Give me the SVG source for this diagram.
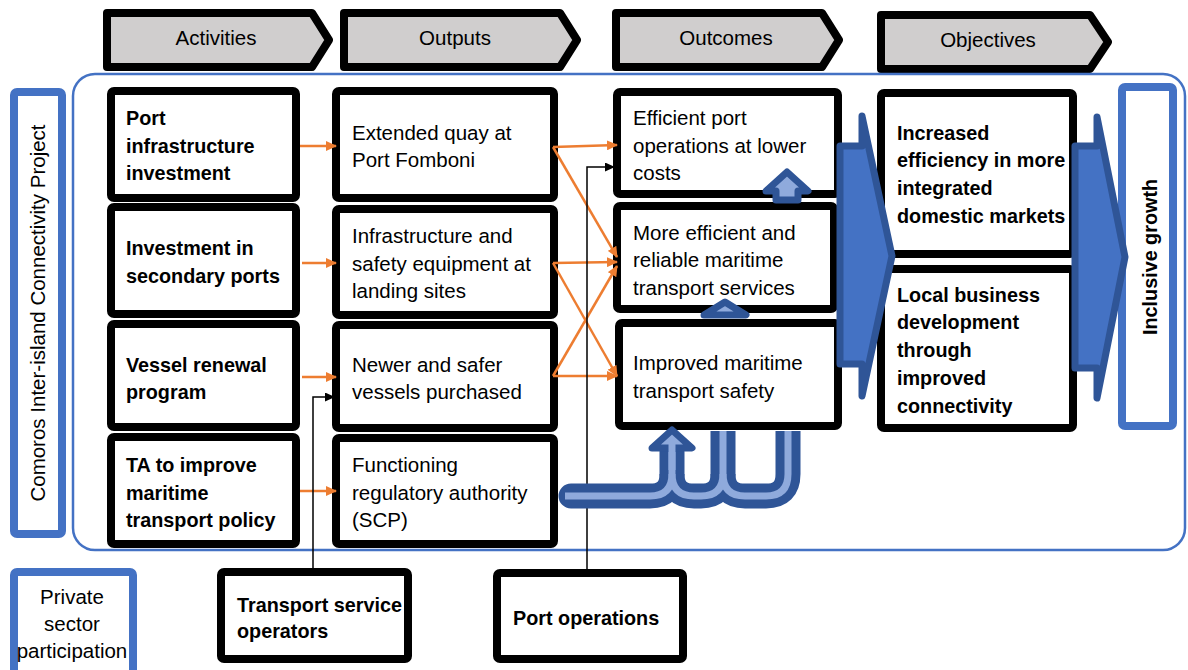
<svg xmlns="http://www.w3.org/2000/svg" width="1188" height="670" viewBox="0 0 1188 670">
  <style>
    .t { font-family: "Liberation Sans", Arial, sans-serif; font-size: 20.5px; fill: #000; }
    .b { font-weight: bold; font-size: 19.8px; }
    .c { text-anchor: middle; }
    .box { fill: #fff; stroke: #000; stroke-width: 8; }
    .hdr { fill: #d0cece; stroke: #000; stroke-width: 8; stroke-linejoin: round; }
    .frame { fill: #fff; stroke: #4472c4; stroke-width: 8; }
    .scope { fill: none; stroke: #4472c4; stroke-width: 2.5; }
    .or { fill: none; stroke: #ed7d31; stroke-width: 2.5; marker-end: url(#ao); }
    .bk { fill: none; stroke: #000; stroke-width: 1.5; marker-end: url(#ab); }
    .big { fill: #4472c4; stroke: #2f5597; stroke-width: 7; stroke-linejoin: round; }
    .sm { fill: #8faadc; stroke: #2f5597; stroke-width: 7; stroke-linejoin: round; }
    .band { fill: none; stroke: #2f5597; stroke-width: 25; }
    .core { fill: none; stroke: #8faadc; stroke-width: 7; }
  </style>
  <defs>
    <marker id="ao" markerUnits="userSpaceOnUse" markerWidth="11" markerHeight="10" refX="10" refY="5" orient="auto">
      <path d="M0,0 L11,5 L0,10 z" fill="#ed7d31"/>
    </marker>
    <marker id="ab" markerUnits="userSpaceOnUse" markerWidth="10" markerHeight="9" refX="9" refY="4.5" orient="auto">
      <path d="M0,0 L10,4.5 L0,9 z" fill="#000"/>
    </marker>
  </defs>

  <!-- stage headers -->
  <g id="hdr-activities">
    <path class="hdr" d="M107,13 H312 L329,40 L312,67 H107 Z"/>
    <text class="t c" x="216" y="45">Activities</text>
  </g>
  <g id="hdr-outputs">
    <path class="hdr" d="M344,13 H560 L577,40 L560,67 H344 Z"/>
    <text class="t c" x="455" y="45">Outputs</text>
  </g>
  <g id="hdr-outcomes">
    <path class="hdr" d="M616,13 H822 L839,40 L822,67 H616 Z"/>
    <text class="t c" x="726" y="45">Outcomes</text>
  </g>
  <g id="hdr-objectives">
    <path class="hdr" d="M881,15 H1090 L1108,42 L1090,69 H881 Z"/>
    <text class="t c" x="988" y="47">Objectives</text>
  </g>

  <!-- project scope -->
  <rect id="scope" class="scope" x="73" y="74" width="1112" height="476" rx="22"/>
  <g id="project">
    <rect class="frame" x="14" y="92" width="48" height="442" rx="3"/>
    <text class="t c" transform="translate(45,313) rotate(-90)">Comoros Inter-island Connectivity Project</text>
  </g>
  <g id="private">
    <rect class="frame" x="14" y="572" width="119" height="112" rx="3"/>
    <text class="t c" x="72" y="604">Private</text>
    <text class="t c" x="72" y="631">sector</text>
    <text class="t c" x="72" y="658">participation</text>
  </g>

  <!-- activities -->
  <g id="act-port">
    <rect class="box" x="111" y="91" width="185" height="107" rx="3"/>
    <text class="t b" x="126" y="125">Port</text>
    <text class="t b" x="126" y="153">infrastructure</text>
    <text class="t b" x="126" y="180">investment</text>
  </g>
  <g id="act-secondary">
    <rect class="box" x="111" y="207" width="185" height="107" rx="3"/>
    <text class="t b" x="126" y="255">Investment in</text>
    <text class="t b" x="126" y="283">secondary ports</text>
  </g>
  <g id="act-vessel">
    <rect class="box" x="111" y="324" width="185" height="103" rx="3"/>
    <text class="t b" x="126" y="372">Vessel renewal</text>
    <text class="t b" x="126" y="399">program</text>
  </g>
  <g id="act-ta">
    <rect class="box" x="111" y="437" width="185" height="107" rx="3"/>
    <text class="t b" x="126" y="472">TA to improve</text>
    <text class="t b" x="126" y="500">maritime</text>
    <text class="t b" x="126" y="527">transport policy</text>
  </g>

  <!-- outputs -->
  <g id="out-quay">
    <rect class="box" x="336" y="91" width="218" height="107" rx="3"/>
    <text class="t" x="352" y="140">Extended quay at</text>
    <text class="t" x="352" y="167">Port Fomboni</text>
  </g>
  <g id="out-landing">
    <rect class="box" x="336" y="209" width="218" height="106" rx="3"/>
    <text class="t" x="352" y="243">Infrastructure and</text>
    <text class="t" x="352" y="271">safety equipment at</text>
    <text class="t" x="352" y="298">landing sites</text>
  </g>
  <g id="out-vessels">
    <rect class="box" x="336" y="325" width="218" height="103" rx="3"/>
    <text class="t" x="352" y="372">Newer and safer</text>
    <text class="t" x="352" y="399">vessels purchased</text>
  </g>
  <g id="out-scp">
    <rect class="box" x="336" y="438" width="218" height="106" rx="3"/>
    <text class="t" x="352" y="472">Functioning</text>
    <text class="t" x="352" y="500">regulatory authority</text>
    <text class="t" x="352" y="527">(SCP)</text>
  </g>

  <!-- outcomes -->
  <g id="oc-port">
    <rect class="box" x="617" y="92" width="221" height="102" rx="3"/>
    <text class="t" x="633" y="125">Efficient port</text>
    <text class="t" x="633" y="153">operations at lower</text>
    <text class="t" x="633" y="180">costs</text>
  </g>
  <g id="oc-services">
    <rect class="box" x="617" y="206" width="217" height="103" rx="3"/>
    <text class="t" x="633" y="240">More efficient and</text>
    <text class="t" x="633" y="267">reliable maritime</text>
    <text class="t" x="633" y="295">transport services</text>
  </g>
  <g id="oc-safety">
    <rect class="box" x="619" y="323" width="219" height="103" rx="3"/>
    <text class="t" x="633" y="370">Improved maritime</text>
    <text class="t" x="633" y="398">transport safety</text>
  </g>

  <!-- objectives -->
  <g id="obj-markets">
    <rect class="box" x="881" y="93" width="192" height="161" rx="3"/>
    <text class="t b" x="897" y="140">Increased</text>
    <text class="t b" x="897" y="167">efficiency in more</text>
    <text class="t b" x="897" y="195">integrated</text>
    <text class="t b" x="897" y="223">domestic markets</text>
  </g>
  <g id="obj-business">
    <rect class="box" x="881" y="269" width="192" height="159" rx="3"/>
    <text class="t b" x="897" y="302">Local business</text>
    <text class="t b" x="897" y="329">development</text>
    <text class="t b" x="897" y="357">through</text>
    <text class="t b" x="897" y="385">improved</text>
    <text class="t b" x="897" y="413">connectivity</text>
  </g>

  <!-- goal -->
  <g id="goal">
    <rect class="frame" x="1122" y="87" width="51" height="339" rx="3"/>
    <text class="t b c" transform="translate(1157,257) rotate(-90)">Inclusive growth</text>
  </g>

  <!-- private operators -->
  <g id="pv-transport">
    <rect class="box" x="221" y="572" width="187" height="87" rx="3"/>
    <text class="t b" x="237" y="612">Transport service</text>
    <text class="t b" x="237" y="638">operators</text>
  </g>
  <g id="pv-port">
    <rect class="box" x="497" y="573" width="186" height="86" rx="3"/>
    <text class="t b" x="513" y="625">Port operations</text>
  </g>

  <!-- connectors -->
  <g id="connectors">
    <!-- activities to outputs -->
    <path class="or" d="M300,146 H336"/>
    <path class="or" d="M302,263 H336"/>
    <path class="or" d="M302,377 H336"/>
    <path class="or" d="M300,491 H336"/>
    <!-- outputs to outcomes -->
    <path class="or" d="M553,147 L617,145"/>
    <path class="or" d="M553,147 L617,257"/>
    <path class="or" d="M553,263 L617,262"/>
    <path class="or" d="M553,263 L617,376"/>
    <path class="or" d="M553,376 L617,266"/>
    <path class="or" d="M553,376 L617,376"/>
    <!-- private sector links -->
    <path class="bk" d="M313,568 V397 H334"/>
    <path class="bk" d="M587,569 V167 H614"/>

    <!-- regulatory authority feeding the outcomes -->
    <path class="band" stroke-linecap="round" d="M571,496 H650 Q672,496 672,474 V452"/>
    <path class="band" d="M672,474 Q672,496 694,496 H701 Q723,496 723,474 V431"/>
    <path class="band" d="M723,474 Q723,496 745,496 H766 Q788,496 788,474 V431"/>
    <path class="core" d="M565,496 H650 Q672,496 672,474 V452"/>
    <path class="core" d="M672,474 Q672,496 694,496 H701 Q723,496 723,474 V431"/>
    <path class="core" d="M723,474 Q723,496 745,496 H766 Q788,496 788,474 V431"/>
    <polygon class="sm" stroke-width="9" points="672,430 692,448 652,448"/>
    <path class="core" d="M672,470 V440"/>

    <!-- outcome to outcome -->
    <polygon class="sm" points="787,172 808,191 798,191 798,200 776,200 776,191 766,191"/>
    <polygon class="sm" points="725,302 746,315 704,315"/>

    <!-- outcomes to objectives to goal -->
    <polygon class="big" points="840,146 862,146 862,116 892,256 862,396 862,364 840,364"/>
    <polygon class="big" points="1075,146 1097,146 1097,117 1125,257 1097,398 1097,368 1075,368"/>
  </g>
</svg>
